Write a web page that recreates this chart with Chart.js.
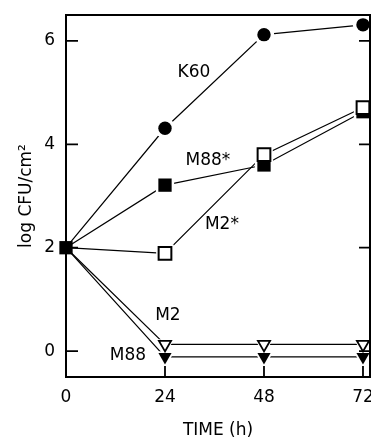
<!DOCTYPE html>
<html>
<head>
<meta charset="utf-8">
<script src="https://cdn.jsdelivr.net/npm/chart.js@4/dist/chart.umd.min.js"></script>
<style>
  html, body { margin: 0; padding: 0; background: #ffffff; }
  canvas { display: block; }
</style>
</head>
<body>
<canvas id="c" width="371" height="441"></canvas>
<script>
// ---- data ----
const timeHours = [0, 24, 48, 72];
const k60 = [2, 4.31, 6.12, 6.31];
const m88Star = [2, 3.21, 3.60, 4.63];
const m2Star = [2, 1.89, 3.80, 4.71];
const m2 = [2, 0.13, 0.13, 0.13];
const m88 = [2, -0.11, -0.11, -0.11];

const xTickValues = [0, 24, 48, 72];
const xTickLabels = ['0', '24', '48', '72'];
const yTickValues = [0, 2, 4, 6];
const yTickLabels = ['0', '2', '4', '6'];

const seriesNames = ['K60', 'M88*', 'M2*', 'M2', 'M88'];
// label anchors in data units (time, log CFU)
const labelTime = [31.0, 34.4, 37.8, 24.7, 15.0];
const labelLog = [5.39, 3.68, 2.44, 0.68, -0.08];

const xTitle = 'TIME (h)';
const yTitle = 'log CFU/cm\u00B2';

// ---- styles ----
const FONT = "'DejaVu Sans', 'Liberation Sans', Arial, sans-serif";
const seriesValues = [k60, m88Star, m2Star, m2, m88];
const markerStyle = [
  { style: 'circle', r: 6.7, fill: '#000', border: '#000', bw: 0, rot: 0, showFirst: false },
  { style: 'rect', r: 9.4, fill: '#000', border: '#000', bw: 0, rot: 0, showFirst: true },
  { style: 'rect', r: 9.0, fill: '#fff', border: '#000', bw: 2, rot: 0, showFirst: false },
  { style: 'triangle', r: 7.0, fill: '#fff', border: '#000', bw: 1.8, rot: 180, showFirst: false },
  { style: 'triangle', r: 7.6, fill: '#000', border: '#000', bw: 0, rot: 180, showFirst: false }
];

function pts(vals) { return timeHours.map((t, i) => ({ x: t, y: vals[i] })); }

const datasets = [];
// lines (drawn first)
seriesValues.forEach((vals, k) => {
  datasets.push({
    label: seriesNames[k] + ' line',
    data: pts(vals),
    showLine: true,
    borderColor: '#000',
    borderWidth: 1.2,
    pointRadius: 0,
    fill: false,
    clip: false,
    order: 30
  });
});
// white halos (gaps around markers)
seriesValues.forEach((vals, k) => {
  const m = markerStyle[k];
  datasets.push({
    label: seriesNames[k] + ' halo',
    data: pts(vals),
    showLine: false,
    pointStyle: m.style,
    pointRotation: m.rot,
    pointRadius: (ctx) => ctx.dataIndex === 0 ? 0 : m.r + 3.5,
    pointBackgroundColor: '#fff',
    pointBorderWidth: 0,
    clip: false,
    order: 20
  });
});
// markers
seriesValues.forEach((vals, k) => {
  const m = markerStyle[k];
  datasets.push({
    label: seriesNames[k],
    data: pts(vals),
    showLine: false,
    pointStyle: m.style,
    pointRotation: m.rot,
    pointRadius: (ctx) => (ctx.dataIndex === 0 && !m.showFirst) ? 0 : m.r,
    pointBackgroundColor: m.fill,
    pointBorderColor: m.border,
    pointBorderWidth: m.bw,
    clip: false,
    order: 10 - k
  });
});

const framePlugin = {
  id: 'frameAndLabels',
  afterDatasetsDraw(chart) {
    const { ctx, chartArea: a, scales } = chart;
    const xs = scales.x, ys = scales.y;
    ctx.save();
    ctx.strokeStyle = '#000';
    // inner ticks
    ctx.lineWidth = 1.8;
    ctx.beginPath();
    yTickValues.forEach(v => {
      const py = ys.getPixelForValue(v);
      ctx.moveTo(a.left, py); ctx.lineTo(a.left + 12, py);
      ctx.moveTo(a.right, py); ctx.lineTo(a.right - 11, py);
    });
    xTickValues.forEach(v => {
      const px = xs.getPixelForValue(v);
      ctx.moveTo(px, a.bottom); ctx.lineTo(px, a.bottom - 11);
    });
    ctx.stroke();
    // frame
    ctx.lineWidth = 2;
    ctx.strokeRect(a.left, a.top, a.right - a.left, a.bottom - a.top);
    // series labels
    ctx.fillStyle = '#000';
    ctx.font = '17px ' + FONT;
    ctx.textAlign = 'center';
    ctx.textBaseline = 'middle';
    seriesNames.forEach((name, k) => {
      ctx.fillText(name, xs.getPixelForValue(labelTime[k]), ys.getPixelForValue(labelLog[k]));
    });
    ctx.restore();
  }
};

new Chart(document.getElementById('c'), {
  type: 'scatter',
  data: { datasets },
  plugins: [framePlugin],
  options: {
    responsive: false,
    animation: false,
    devicePixelRatio: 1,
    layout: { autoPadding: false, padding: { top: 15, right: 1, left: 0, bottom: 0 } },
    plugins: { legend: { display: false }, tooltip: { enabled: false } },
    scales: {
      x: {
        type: 'linear',
        min: 0,
        max: 73.7,
        grid: { display: false, drawTicks: false },
        border: { display: false },
        afterBuildTicks: (s) => { s.ticks = xTickValues.map(v => ({ value: v })); },
        afterFit: (s) => { s.height = 64; s.paddingLeft = 0; s.paddingRight = 0; },
        ticks: {
          padding: 10,
          color: '#000',
          font: { family: FONT, size: 17 },
          callback: (v) => xTickLabels[xTickValues.indexOf(v)]
        },
        title: {
          display: true,
          text: xTitle,
          color: '#000',
          font: { family: FONT, size: 17 },
          padding: { top: 0, bottom: 0 }
        }
      },
      y: {
        type: 'linear',
        min: -0.5,
        max: 6.5,
        grid: { display: false, drawTicks: false },
        border: { display: false },
        afterBuildTicks: (s) => { s.ticks = yTickValues.map(v => ({ value: v })); },
        afterFit: (s) => { s.width = 66; s.paddingTop = 0; s.paddingBottom = 0; },
        ticks: {
          padding: 11,
          color: '#000',
          font: { family: FONT, size: 17 },
          callback: (v) => yTickLabels[yTickValues.indexOf(v)]
        },
        title: {
          display: true,
          text: yTitle,
          color: '#000',
          font: { family: FONT, size: 17 },
          padding: { top: 16, bottom: 0 }
        }
      }
    }
  }
});
</script>
</body>
</html>
